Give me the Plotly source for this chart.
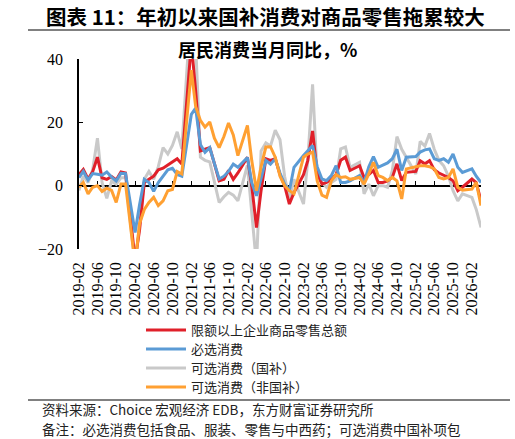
import plotly.graph_objects as go

# ---------------- data ----------------
dates = [f"{y}-{m:02d}" for y in range(2019, 2026) for m in range(2, 13)] + ["2026-02", "2026-03", "2026-04"]

tick_dates = ["2019-02", "2019-06", "2019-10", "2020-02", "2020-06", "2020-10",
              "2021-02", "2021-06", "2021-10", "2022-02", "2022-06", "2022-10",
              "2023-02", "2023-06", "2023-10", "2024-02", "2024-06", "2024-10",
              "2025-02", "2025-06", "2025-10", "2026-02"]

names = ["限额以上企业商品零售总额", "必选消费", "可选消费（国补）", "可选消费（非国补）"]

total_goods = [
    3.5, 5.1, 2.1, 4.4, 9.0, 2.5, 2.0, 2.9, 1.8, 4.3, 4.0,
    -23.5, -14.0, 1.0, 2.0, 3.0, 5.0, 5.5, 6.5, 7.4, 8.5, 6.8,
    45.0, 30.0, 11.0, 11.5, 12.0, 7.0, 1.5, 2.0, 4.8, 2.0, 4.0,
    9.0, 0.0, -13.2, -1.5, 8.5, 8.0, 8.5, 3.5, 0.0, -5.8, -2.2,
    3.5, 8.0, 17.3, 4.0, 0.5, 1.0, 2.0, 3.5, 8.0, 9.0, 4.8,
    6.3, 2.6, 3.5, 4.8, 1.0, 1.0, 1.5, 2.6, 6.9, 1.6, 4.2,
    4.5, 7.9, 6.9, 7.9, 5.0, 4.0, 3.2, 2.6, 1.5, -1.6, -0.5,
    2.1, 1.0, -4.8]

essential = [
    2.5, 4.5, 1.8, 3.8, 3.6, 3.3, 4.3, 2.7, 1.5, 3.9, 3.8,
    -14.8, -6.0, 2.0, 1.0, -1.8, 1.0, 3.0, 5.0, 5.5, 3.5, 3.0,
    22.5, 24.5, 13.0, 10.5, 12.0, 7.0, 2.1, 3.0, 4.5, 6.8, 5.8,
    8.9, 1.0, -3.2, 2.0, 8.0, 6.8, 8.5, 4.0, 0.5, -1.6, 5.8,
    9.5, 11.0, 12.7, 6.0, 2.1, 1.6, 3.2, 6.3, 1.0, 1.0, 1.5,
    3.2, 1.0, 6.0, 9.2, 5.8, 6.5, 7.2, 8.5, 11.5, 4.8, 9.0,
    9.2, 10.6, 11.3, 11.6, 8.5, 8.0, 8.5, 7.4, 10.0, 5.8, 4.2,
    5.3, 3.0, 1.0]

optional_subsidy = [
    -1.5, 3.0, 1.0, 5.0, 15.0, 1.0, -4.0, 1.5, 0.5, 2.5, 2.5,
    -25.0, -12.0, 2.0, 4.5, 2.0, 6.0, 12.0, 10.0, 12.7, 17.0, 11.6,
    58.0, 45.0, 9.0, 8.0, 7.5, 1.0, -5.3, -3.5, -2.1, -3.0, -4.8,
    6.5, -8.0, -25.0, 11.0, 13.5, 12.5, 17.5, 14.5, 3.0, -4.5, 2.0,
    -5.8, 8.0, 32.0, 3.0, 1.0, -0.5, 1.0, 2.0, 11.6, 12.2, 5.8,
    7.4, -2.6, 0.5, -3.2, 0.0, 0.0, -0.5, 4.8, 15.5, 11.5, 9.0,
    3.7, 14.0, 12.5, 16.5, 11.5, 8.0, 6.3, 3.0, -1.6, -4.8, -2.6,
    -3.7, -7.5, -13.2]

optional_other = [
    -0.5, 1.0, -2.6, -0.5, 0.0, -1.8, -0.8, -1.5, -5.3, 0.5, 0.5,
    -25.0, -12.0, -7.5, -5.3, -3.7, -6.3, -4.8, -1.6, -1.2, 4.5, 3.7,
    36.5, 25.0, 20.6, 18.5, 20.1, 15.0, 12.0, 15.5, 19.8, 16.0, 9.5,
    19.0, 8.0, -1.6, 6.0, 12.2, 12.3, 9.0, 3.0, 0.0, -1.6, -2.6,
    9.0, 10.0, 10.6, 1.5, -3.0, -3.7, 1.5, 3.5, 2.6, 2.8, 2.0,
    2.6, 0.5, 3.7, 7.4, 3.2, 2.6, 1.6, 2.6, 1.5, -4.2, 5.3,
    6.0, 6.3, 6.3, 6.0, 5.3, 2.6, 2.1, 2.6, 5.3, -0.5, -1.4,
    -1.1, 1.1, -6.3]

colors = ["#E0202A", "#5B9BD5", "#C9C9C9", "#FFA032"]

# ---------------- layout helpers (pixel -> paper) ----------------
W, H = 515, 439
L, R, T, B = 79, 34, 59, 190
PW, PH = W - L - R, H - T - B


def fx(px):
    return (px - L) / PW


def fy(py):
    return (H - B - py) / PH


fig = go.Figure()

values = [total_goods, essential, optional_subsidy, optional_other]
legend_ids = ["legend", "legend2", "legend3", "legend4"]
draw_order = [2, 0, 1, 3]
for i in draw_order:
    fig.add_trace(go.Scatter(
        x=dates, y=values[i], name=names[i], mode="lines",
        line=dict(color=colors[i], width=3),
        legend=legend_ids[i],
        xaxis="x2" if i == 3 else "x",
        yaxis="y",
        hoverinfo="skip",
    ))

serif = "Liberation Serif, Times New Roman, serif"
cjk = "Noto Sans CJK SC, sans-serif"

fig.update_layout(
    width=W, height=H,
    margin=dict(l=L, r=R, t=T, b=B),
    paper_bgcolor="white", plot_bgcolor="white",
    showlegend=True,
    xaxis=dict(
        type="date",
        range=["2019-02-01", "2026-04-01"],
        tickmode="array", tickvals=tick_dates, ticktext=tick_dates,
        tickangle=-90, ticks="", showline=False, showgrid=False, zeroline=False,
        tickfont=dict(family=serif, size=16, color="black"),
        ticklabelstandoff=9,
    ),
    xaxis2=dict(
        type="date", overlaying="x", matches="x", anchor="free", position=1/3,
        tickmode="array", tickvals=tick_dates, showticklabels=False,
        ticks="inside", ticklen=4, tickwidth=1.3, tickcolor="black",
        showline=True, linecolor="black", linewidth=1.5,
        showgrid=False, zeroline=False, layer="below traces",
    ),
    yaxis=dict(
        range=[-20, 40], tickmode="array", tickvals=[-20, 0, 20, 40],
        ticks="inside", ticklen=4, tickwidth=1.3, tickcolor="black",
        showline=True, linecolor="black", linewidth=1.5,
        showgrid=False, zeroline=False,
        tickfont=dict(family=serif, size=16, color="black"),
        ticklabelstandoff=11,
    ),
)

leg_y = [330, 349, 368, 387]
for lid, py in zip(legend_ids, leg_y):
    fig.update_layout({lid: dict(
        x=fx(141), y=fy(py), xanchor="left", yanchor="middle",
        bgcolor="rgba(0,0,0,0)", borderwidth=0,
        font=dict(family=cjk, size=13, color="#222222"),
        itemwidth=40,
    )})

annotations = [
    dict(text="<b>图表 11：年初以来国补消费对商品零售拖累较大</b>", x=fx(265), y=fy(16),
         font=dict(family=cjk, size=20.5, color="black")),
    dict(text="<b>居民消费当月同比，%</b>", x=fx(267), y=fy(49),
         font=dict(family=cjk, size=18, color="black")),
    dict(text="资料来源：Choice 宏观经济 EDB，东方财富证券研究所", x=fx(40), y=fy(409),
         xanchor="left", font=dict(family=cjk, size=13.5, color="#222222")),
    dict(text="备注：必选消费包括食品、服装、零售与中西药；可选消费中国补项包", x=fx(40), y=fy(429),
         xanchor="left", font=dict(family=cjk, size=13.5, color="#222222")),
]
for a in annotations:
    a.setdefault("xanchor", "center")
    fig.add_annotation(xref="paper", yref="paper", showarrow=False, yanchor="middle", **a)

for py in (30, 400):
    fig.add_shape(type="line", xref="paper", yref="paper",
                  x0=fx(28), x1=fx(510), y0=fy(py), y1=fy(py),
                  line=dict(color="#808080", width=2))

fig.write_html("out.html")
